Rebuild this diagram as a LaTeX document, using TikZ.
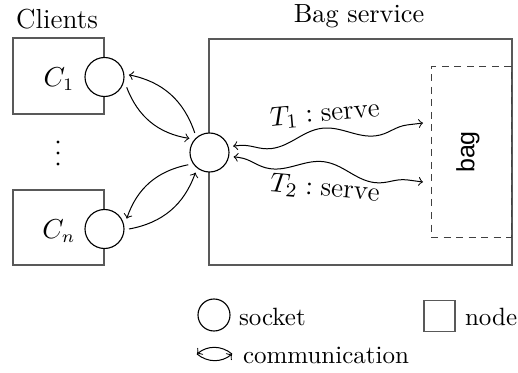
\documentclass[tikz,border=0pt]{standalone}
\usepackage{fontspec}
\newfontfamily\bagfont{Liberation Sans}
\usetikzlibrary{decorations.pathmorphing}
\begin{document}
\begin{tikzpicture}[x=0.4pt,y=-0.4pt,
  boxline/.style={draw=black!65, line width=0.45pt, inner sep=0pt, outer sep=0pt},
  sock/.style={circle, draw=black, fill=white, line width=0.45pt, inner sep=0pt, minimum size=15.6pt, outer sep=2pt},
  comm/.style={->, line width=0.4pt, bend right=30},
  wave/.style={<->, line width=0.4pt, decorate, decoration={snake, amplitude=#1, segment length=42pt, pre length=2pt, post length=2pt}},
  lbl/.style={inner sep=1pt, font=\fontsize{10}{12}\selectfont},
  dotn/.style={circle, fill=black, inner sep=0pt, minimum size=1.3pt}
]
\useasboundingbox (0,0) rectangle (518,372);
% boxes
\node[boxline, minimum width=36.4pt, minimum height=30.4pt] (c1box) at (58.5,76) {};
\node[boxline, minimum width=36.4pt, minimum height=30pt] (cnbox) at (58.5,227.5) {};
\node[boxline, minimum width=121.2pt, minimum height=90.4pt] (srv) at (360.5,152) {};
\node[boxline, draw=black!75, line width=0.4pt, dash pattern=on 2.8pt off 2.2pt, minimum width=32pt, minimum height=68pt] (bag) at (471,152) {};
\node[rotate=90, inner sep=0pt, font=\bagfont\fontsize{10}{12}\selectfont] (baglbl) at (468,152) {bag};
% titles
\node[lbl, font=\fontsize{11}{13}\selectfont] (clients) at (57,19) {Clients};
\node[lbl, font=\fontsize{10.5}{12}\selectfont] (bagsrv) at (359,16) {Bag service};
% client labels
\node[lbl, font=\fontsize{10.5}{12}\selectfont] (c1lbl) at (59,79) {$C_1$};
\node[lbl, font=\fontsize{10.5}{12}\selectfont] (cnlbl) at (59,231) {$C_n$};
\node[dotn] (d1) at (58,142) {};
\node[dotn] (d2) at (58,153) {};
\node[dotn] (d3) at (58,164) {};
% sockets
\node[sock] (c1) at (104.5,77) {};
\node[sock] (cn) at (104.5,229) {};
\node[sock] (ss) at (209.5,152.5) {};
% communication arcs
\draw[comm] (ss.127) to (c1.5);
\draw[comm] (c1.-25) to (ss.145);
\draw[comm] (ss.-150) to (cn.25);
\draw[comm] (cn.0) to (ss.-125);
% waves
\coordinate (t1end) at (423,123);
\coordinate (t2end) at (423,182);
\draw[wave=-2.8pt] (ss.15) -- (t1end);
\draw[wave=-2.8pt] (ss.-10) -- (t2end);
\node[lbl, rotate=5, font=\fontsize{11}{13}\selectfont] (t1lbl) at (325,114) {$T_1 : \mathrm{serve}$};
\node[lbl, rotate=-5, font=\fontsize{11}{13}\selectfont] (t2lbl) at (325,189) {$T_2 : \mathrm{serve}$};
% legend
\node[sock, minimum size=12.8pt, outer sep=0pt] (legsock) at (214,315) {};
\node[lbl, anchor=west] (legsocklbl) at (236,317) {socket};
\node[boxline, minimum width=12.4pt, minimum height=12.4pt] (legnode) at (439.5,316) {};
\node[lbl, anchor=west] (legnodelbl) at (462,317) {node};
\coordinate (cl) at (197,354);
\coordinate (cr) at (232,354);
\draw[->, line width=0.4pt] (cr) to[bend right=40] (cl);
\draw[->, line width=0.4pt] (cl) to[bend right=40] (cr);
\node[lbl, anchor=west] (legcommlbl) at (240,355) {communication};
\end{tikzpicture}
\end{document}
